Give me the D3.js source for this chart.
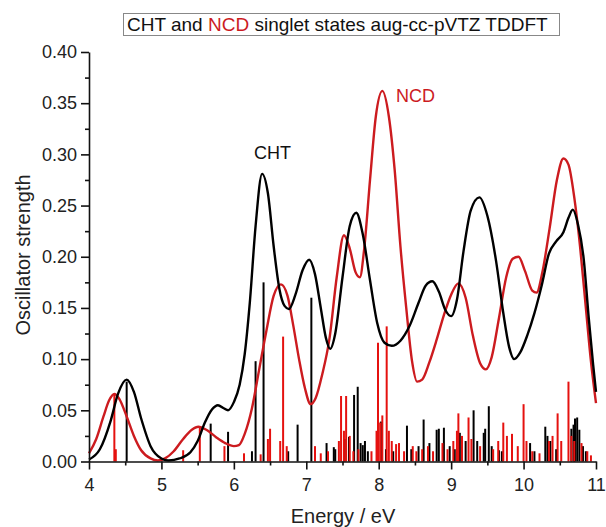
<!DOCTYPE html>
<html>
<head>
<meta charset="utf-8">
<script src="https://cdn.jsdelivr.net/npm/d3@7"></script>
<style>
  body { margin: 0; background: #fff; }
  text { font-family: 'Liberation Sans', Arial, sans-serif; }
</style>
</head>
<body>
<div id="chart"></div>
<script>
// Broadened spectra: [energy eV, oscillator strength]
var chtCurve = [
  [4.00, 0.002], [4.15, 0.012], [4.30, 0.040], [4.40, 0.066], [4.52, 0.080],
  [4.62, 0.068], [4.72, 0.042], [4.85, 0.015], [5.00, 0.003], [5.10, 0.001],
  [5.25, 0.003], [5.40, 0.009], [5.50, 0.020], [5.60, 0.038], [5.70, 0.051],
  [5.78, 0.055], [5.86, 0.052], [5.92, 0.050], [6.00, 0.058], [6.08, 0.075],
  [6.15, 0.105], [6.22, 0.155], [6.30, 0.230], [6.39, 0.281], [6.47, 0.262],
  [6.55, 0.210], [6.63, 0.168], [6.70, 0.152], [6.76, 0.149], [6.85, 0.163],
  [6.95, 0.187], [7.04, 0.197], [7.12, 0.183], [7.20, 0.150], [7.27, 0.121],
  [7.33, 0.110], [7.40, 0.125], [7.50, 0.180], [7.60, 0.230], [7.69, 0.243],
  [7.78, 0.222], [7.88, 0.177], [7.98, 0.135], [8.08, 0.116], [8.18, 0.113],
  [8.30, 0.118], [8.43, 0.133], [8.55, 0.155], [8.65, 0.172], [8.74, 0.176],
  [8.83, 0.166], [8.92, 0.148], [9.00, 0.142], [9.08, 0.158], [9.17, 0.205],
  [9.27, 0.245], [9.39, 0.258], [9.50, 0.240], [9.62, 0.196], [9.72, 0.145],
  [9.80, 0.112], [9.87, 0.100], [9.95, 0.106], [10.05, 0.123], [10.15, 0.145],
  [10.25, 0.172], [10.35, 0.203], [10.45, 0.215], [10.55, 0.224], [10.62, 0.238],
  [10.68, 0.246], [10.75, 0.232], [10.83, 0.198], [10.90, 0.140], [10.96, 0.095],
  [11.00, 0.068]
];

var ncdCurve = [
  [4.00, 0.008], [4.10, 0.022], [4.20, 0.044], [4.28, 0.060], [4.35, 0.066],
  [4.42, 0.061], [4.52, 0.044], [4.62, 0.025], [4.72, 0.011], [4.85, 0.003],
  [4.95, 0.001], [5.05, 0.003], [5.17, 0.010], [5.30, 0.022], [5.42, 0.031],
  [5.51, 0.034], [5.62, 0.031], [5.75, 0.024], [5.88, 0.018], [6.00, 0.015],
  [6.07, 0.016], [6.15, 0.027], [6.25, 0.052], [6.35, 0.090], [6.45, 0.128],
  [6.55, 0.162], [6.65, 0.173], [6.74, 0.162], [6.82, 0.133], [6.90, 0.100],
  [6.98, 0.072], [7.06, 0.056], [7.13, 0.062], [7.22, 0.085], [7.32, 0.120],
  [7.42, 0.180], [7.52, 0.221], [7.60, 0.208], [7.68, 0.185], [7.74, 0.180],
  [7.80, 0.208], [7.88, 0.275], [7.96, 0.337], [8.05, 0.362], [8.14, 0.337],
  [8.22, 0.285], [8.30, 0.210], [8.38, 0.150], [8.46, 0.098], [8.53, 0.078],
  [8.60, 0.080], [8.70, 0.097], [8.80, 0.119], [8.90, 0.143], [9.00, 0.163],
  [9.10, 0.174], [9.20, 0.160], [9.30, 0.123], [9.40, 0.096], [9.48, 0.090],
  [9.56, 0.102], [9.66, 0.140], [9.76, 0.180], [9.85, 0.198], [9.93, 0.200],
  [10.02, 0.186], [10.12, 0.167], [10.18, 0.165], [10.26, 0.185], [10.36, 0.228],
  [10.46, 0.275], [10.55, 0.296], [10.62, 0.290], [10.70, 0.258], [10.78, 0.210],
  [10.86, 0.150], [10.93, 0.098], [11.00, 0.057]
];

// Individual transitions (sticks)
var chtSticks = [
  [4.52, 0.078], [5.68, 0.037], [5.92, 0.029], [6.25, 0.010], [6.30, 0.098],
  [6.41, 0.175], [6.75, 0.010], [6.88, 0.036], [7.07, 0.160], [7.28, 0.018],
  [7.38, 0.014], [7.40, 0.012], [7.53, 0.022], [7.59, 0.024], [7.66, 0.065],
  [7.71, 0.073], [7.75, 0.018], [7.78, 0.016], [7.81, 0.020], [7.85, 0.010],
  [8.03, 0.039], [8.10, 0.012], [8.20, 0.010], [8.39, 0.035], [8.45, 0.012],
  [8.55, 0.015], [8.62, 0.041], [8.70, 0.018], [8.80, 0.031], [8.83, 0.032],
  [8.90, 0.033], [8.98, 0.015], [9.05, 0.012], [9.12, 0.028], [9.20, 0.020],
  [9.31, 0.050], [9.36, 0.020], [9.45, 0.028], [9.47, 0.032], [9.52, 0.054],
  [9.56, 0.015], [9.66, 0.011], [9.70, 0.010], [10.09, 0.018], [10.15, 0.010],
  [10.30, 0.034], [10.33, 0.025], [10.37, 0.020], [10.45, 0.012], [10.66, 0.032],
  [10.69, 0.036], [10.71, 0.042], [10.74, 0.043], [10.77, 0.031], [10.82, 0.015],
  [10.86, 0.010]
];

var ncdSticks = [
  [4.35, 0.065], [4.37, 0.012], [5.30, 0.011], [5.53, 0.034], [5.87, 0.015],
  [6.14, 0.008], [6.37, 0.007], [6.47, 0.022], [6.50, 0.032], [6.64, 0.020],
  [6.68, 0.122], [6.73, 0.015], [7.12, 0.015], [7.20, 0.008], [7.30, 0.010],
  [7.45, 0.020], [7.48, 0.064], [7.52, 0.030], [7.55, 0.064], [7.60, 0.025],
  [7.65, 0.010], [7.72, 0.012], [7.90, 0.010], [7.97, 0.030], [7.99, 0.116],
  [8.02, 0.038], [8.05, 0.045], [8.11, 0.132], [8.14, 0.030], [8.18, 0.020],
  [8.24, 0.017], [8.28, 0.018], [8.35, 0.010], [8.47, 0.015], [8.52, 0.010],
  [8.60, 0.012], [8.68, 0.015], [8.75, 0.010], [8.88, 0.018], [8.95, 0.012],
  [9.03, 0.020], [9.08, 0.030], [9.10, 0.047], [9.15, 0.025], [9.24, 0.043],
  [9.28, 0.022], [9.40, 0.015], [9.58, 0.012], [9.65, 0.020], [9.72, 0.038],
  [9.77, 0.025], [9.84, 0.027], [9.92, 0.015], [10.00, 0.056], [10.04, 0.020],
  [10.12, 0.010], [10.22, 0.008], [10.35, 0.020], [10.40, 0.025], [10.47, 0.047],
  [10.52, 0.020], [10.62, 0.078], [10.66, 0.025], [10.70, 0.020], [10.80, 0.018],
  [10.88, 0.010], [10.93, 0.006]
];

var xTicks = [4, 5, 6, 7, 8, 9, 10, 11];
var xMinorTicks = [4.5, 5.5, 6.5, 7.5, 8.5, 9.5, 10.5];
var yTicks = [0, 0.05, 0.10, 0.15, 0.20, 0.25, 0.30, 0.35, 0.40];
var yMinorTicks = [0.025, 0.075, 0.125, 0.175, 0.225, 0.275, 0.325, 0.375];

var chartWidth = 606;
var chartHeight = 527;
var red = '#cc1b1f';
var stickRed = '#e5110f';

// Create SVG Element
var svg = d3.select('#chart')
    .append('svg')
    .attr('width', chartWidth)
    .attr('height', chartHeight);

// Create Scales
var scaleX = d3.scaleLinear()
    .domain([4, 11])
    .range([89, 596]);

var scaleY = d3.scaleLinear()
    .domain([0, 0.4])
    .range([461.5, 52]);

// Sticks
function drawSticks(data, color) {
  svg.append('g')
      .selectAll('line')
      .data(data)
      .enter()
      .append('line')
      .attr('x1', function(d) { return scaleX(d[0]); })
      .attr('x2', function(d) { return scaleX(d[0]); })
      .attr('y1', scaleY(0))
      .attr('y2', function(d) { return scaleY(d[1]); })
      .attr('stroke', color)
      .attr('stroke-width', 2);
}
drawSticks(chtSticks, '#000');
drawSticks(ncdSticks, stickRed);

// Curves
var line = d3.line()
    .x(function(d) { return scaleX(d[0]); })
    .y(function(d) { return scaleY(d[1]); })
    .curve(d3.curveMonotoneX);

svg.append('path')
    .datum(ncdCurve)
    .attr('d', line)
    .attr('fill', 'none')
    .attr('stroke', red)
    .attr('stroke-width', 2.4);

svg.append('path')
    .datum(chtCurve)
    .attr('d', line)
    .attr('fill', 'none')
    .attr('stroke', '#000')
    .attr('stroke-width', 2.4);

// Create Axis
var axisX = d3.axisBottom(scaleX)
    .tickValues(xTicks)
    .tickFormat(d3.format('d'))
    .tickSize(8)
    .tickSizeOuter(0)
    .tickPadding(9);

svg.append('g')
    .attr('class', 'x-axis')
    .attr('transform', 'translate(0,' + scaleY(0) + ')')
    .call(axisX);

svg.append('g')
    .attr('transform', 'translate(0,' + scaleY(0) + ')')
    .call(d3.axisBottom(scaleX).tickValues(xMinorTicks).tickSize(4)
        .tickSizeOuter(0).tickFormat(''))
    .select('.domain').remove();

var axisY = d3.axisLeft(scaleY)
    .tickValues(yTicks)
    .tickFormat(d3.format('.2f'))
    .tickSize(8)
    .tickSizeOuter(0)
    .tickPadding(4);

svg.append('g')
    .attr('class', 'y-axis')
    .attr('transform', 'translate(' + scaleX(4) + ',0)')
    .call(axisY);

svg.append('g')
    .attr('transform', 'translate(' + scaleX(4) + ',0)')
    .call(d3.axisLeft(scaleY).tickValues(yMinorTicks).tickSize(4)
        .tickSizeOuter(0).tickFormat(''))
    .select('.domain').remove();

svg.selectAll('.domain, .tick line')
    .attr('stroke', '#111')
    .attr('stroke-width', 1.6);

svg.selectAll('.tick text')
    .attr('font-size', 18)
    .attr('font-family', "'Liberation Sans', Arial, sans-serif")
    .attr('fill', '#222');

// Axis titles
svg.append('text')
    .attr('x', 343)
    .attr('y', 523)
    .attr('text-anchor', 'middle')
    .attr('font-size', 20)
    .attr('fill', '#222')
    .text('Energy / eV');

svg.append('text')
    .attr('transform', 'translate(30,255) rotate(-90)')
    .attr('text-anchor', 'middle')
    .attr('font-size', 20)
    .attr('fill', '#222')
    .text('Oscillator strength');

// Title box
svg.append('rect')
    .attr('x', 123.5)
    .attr('y', 13.5)
    .attr('width', 436)
    .attr('height', 22)
    .attr('fill', '#fff')
    .attr('stroke', '#888')
    .attr('stroke-width', 1);

var title = svg.append('text')
    .attr('x', 127)
    .attr('y', 31)
    .attr('font-size', 19)
    .attr('fill', '#111');
title.append('tspan').text('CHT and ');
title.append('tspan').attr('fill', red).text('NCD');
title.append('tspan').text(' singlet states aug-cc-pVTZ TDDFT');

// Curve labels
svg.append('text')
    .attr('x', 254)
    .attr('y', 159)
    .attr('font-size', 18)
    .attr('fill', '#111')
    .text('CHT');

svg.append('text')
    .attr('x', 396)
    .attr('y', 102)
    .attr('font-size', 18)
    .attr('fill', red)
    .text('NCD');
</script>
</body>
</html>
